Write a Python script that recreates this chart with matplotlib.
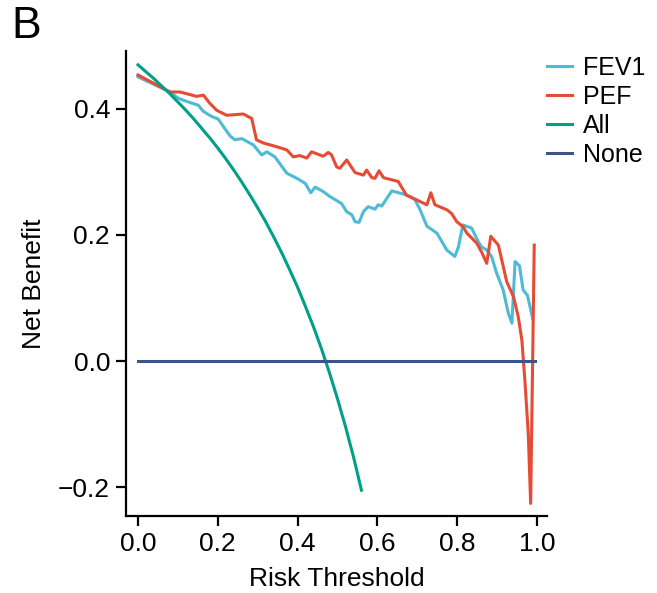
import numpy as np
import matplotlib
matplotlib.use("Agg")
import matplotlib.pyplot as plt

# decision curve data
fev1_x = [0.0, 0.08, 0.101, 0.122, 0.151, 0.164, 0.185, 0.201, 0.214, 0.231, 0.243, 0.260,
          0.289, 0.310, 0.323, 0.343, 0.373, 0.398, 0.419, 0.433, 0.444, 0.464, 0.481,
          0.510, 0.523, 0.536, 0.544, 0.554, 0.565, 0.577, 0.594, 0.602, 0.611, 0.636,
          0.665, 0.682, 0.694, 0.707, 0.724, 0.749, 0.774, 0.794, 0.803, 0.814, 0.836,
          0.853, 0.861, 0.874, 0.886, 0.899, 0.915, 0.928, 0.937, 0.945, 0.956, 0.965,
          0.976, 0.989]
fev1_y = [0.451, 0.427, 0.417, 0.412, 0.406, 0.396, 0.388, 0.384, 0.372, 0.357, 0.351, 0.353,
          0.343, 0.327, 0.332, 0.324, 0.298, 0.290, 0.282, 0.267, 0.276, 0.269, 0.261,
          0.250, 0.237, 0.232, 0.221, 0.220, 0.237, 0.245, 0.241, 0.248, 0.246, 0.270,
          0.265, 0.261, 0.256, 0.240, 0.214, 0.203, 0.176, 0.166, 0.181, 0.216, 0.211,
          0.189, 0.181, 0.176, 0.166, 0.139, 0.113, 0.076, 0.060, 0.158, 0.151, 0.113,
          0.104, 0.068]

pef_x = [0.0, 0.080, 0.105, 0.147, 0.164, 0.180, 0.197, 0.222, 0.264, 0.285, 0.297, 0.314,
         0.348, 0.373, 0.389, 0.406, 0.423, 0.435, 0.464, 0.477, 0.485, 0.498, 0.506,
         0.523, 0.544, 0.565, 0.573, 0.586, 0.594, 0.604, 0.615, 0.652, 0.673, 0.694,
         0.724, 0.734, 0.744, 0.774, 0.786, 0.799, 0.815, 0.824, 0.849, 0.861, 0.874,
         0.884, 0.903, 0.924, 0.941, 0.953, 0.962, 0.970, 0.978, 0.984, 0.993]
pef_y = [0.454, 0.427, 0.427, 0.420, 0.422, 0.409, 0.398, 0.390, 0.392, 0.385, 0.351, 0.346,
         0.340, 0.335, 0.324, 0.326, 0.322, 0.332, 0.325, 0.331, 0.327, 0.308, 0.306,
         0.319, 0.299, 0.295, 0.303, 0.291, 0.290, 0.302, 0.291, 0.285, 0.263, 0.257,
         0.248, 0.267, 0.248, 0.240, 0.234, 0.221, 0.213, 0.203, 0.187, 0.173, 0.155,
         0.198, 0.184, 0.126, 0.102, 0.070, 0.033, -0.035, -0.115, -0.226, 0.184]

all_x = [0.00, 0.02, 0.04, 0.06, 0.08, 0.10, 0.12, 0.14, 0.16, 0.18, 0.20, 0.22, 0.24,
         0.26, 0.28, 0.30, 0.32, 0.34, 0.36, 0.38, 0.40, 0.42, 0.44, 0.46, 0.48, 0.50,
         0.52, 0.54, 0.56]
all_y = [0.470, 0.459, 0.448, 0.436, 0.424, 0.411, 0.398, 0.384, 0.369, 0.354, 0.338,
         0.321, 0.303, 0.284, 0.264, 0.243, 0.221, 0.197, 0.172, 0.145, 0.117, 0.086,
         0.054, 0.019, -0.019, -0.060, -0.104, -0.152, -0.205]

none_x = [0.0, 0.995]
none_y = [0.0, 0.0]

colors = {"FEV1": "#4DBBD5", "PEF": "#E64B35", "All": "#00A087", "None": "#3C5488"}

plt.rcParams["font.family"] = ["Liberation Sans", "DejaVu Sans"]

fig = plt.figure(figsize=(6.57, 5.93), dpi=100)
ax = fig.add_axes([0.1918, 0.1298, 0.8326 - 0.1918, 0.914 - 0.1298])

lw = 2.2
ax.plot(fev1_x, fev1_y, color=colors["FEV1"], lw=lw, label="FEV1")
ax.plot(pef_x, pef_y, color=colors["PEF"], lw=lw, label="PEF")
ax.plot(all_x, all_y, color=colors["All"], lw=lw, label="All")
ax.plot(none_x, none_y, color=colors["None"], lw=lw, label="None")

ax.set_xlim(-0.03, 1.025)
ax.set_ylim(-0.246, 0.492)
ax.set_xticks([0.0, 0.2, 0.4, 0.6, 0.8, 1.0])
ax.set_yticks([-0.2, 0.0, 0.2, 0.4])
ax.set_xticklabels(["0.0", "0.2", "0.4", "0.6", "0.8", "1.0"])
ax.set_yticklabels(["\u22120.2", "0.0", "0.2", "0.4"])

for s in ["top", "right"]:
    ax.spines[s].set_visible(False)
for s in ["left", "bottom"]:
    ax.spines[s].set_linewidth(1.6)
ax.tick_params(direction="out", length=7.5, width=1.6, labelsize=19, pad=4)

ax.set_xlabel("Risk Threshold", fontsize=19, labelpad=8)
ax.set_ylabel("Net Benefit", fontsize=19, labelpad=9)

ax.legend(loc="upper left", bbox_to_anchor=(0.8326, 0.906), bbox_transform=fig.transFigure,
          frameon=False, fontsize=18, handlelength=1.0, handletextpad=0.45,
          labelspacing=0.2, borderpad=0, borderaxespad=0)

fig.text(11 / 657, 1 - 6 / 593, "B", fontsize=32, ha="left", va="top")

fig.savefig("out.png", dpi=100)
